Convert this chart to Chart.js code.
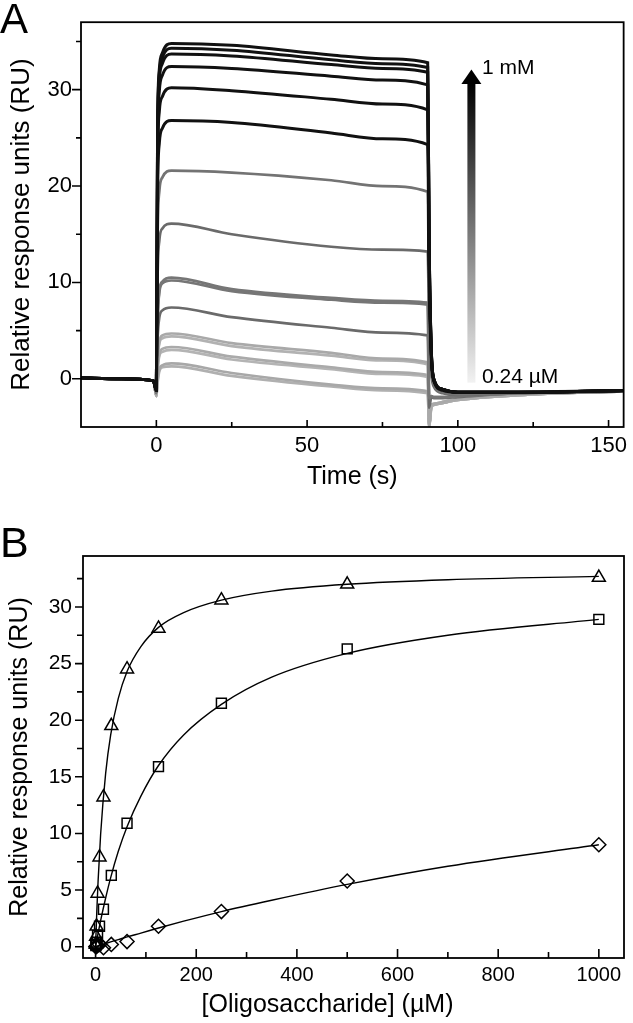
<!DOCTYPE html>
<html>
<head>
<meta charset="utf-8">
<script src="https://cdn.jsdelivr.net/npm/chart.js@4.4.0/dist/chart.umd.min.js"></script>
<style>
  body { margin:0; background:#fff; width:633px; height:1023px; position:relative; overflow:hidden;
         font-family:"Liberation Sans", Arial, sans-serif; }
  canvas { position:absolute; left:0; }
  #chartA { top:0; }
  #chartB { top:520px; }
  .letter { position:absolute; left:0; line-height:1; color:#000; }
</style>
</head>
<body>
<canvas id="chartA" width="633" height="500"></canvas>
<canvas id="chartB" width="633" height="503"></canvas>
<div class="letter" style="top:-2px;font-size:42px">A</div>
<div class="letter" style="top:521px;font-size:43px">B</div>
<script>
// ---- panel A: sensorgrams (RU vs time), highest concentration first ----
var sensTime = [-25, -12, -1, 0, 0.4, 1, 2, 5, 25, 58, 75, 90.0, 90.5, 91.2, 92, 95, 100, 120, 155];

var s1  = [0.1, 0.0, -0.2, -1.2, 26.0, 32.2, 33.8, 34.8, 34.6, 33.6, 33.2, 32.8, 14.0, 3.0, 0.0, -1.1, -1.4, -1.4, -1.2];
var s2  = [0.1, 0.0, -0.2, -1.2, 25.5, 31.7, 33.3, 34.3, 34.1, 33.1, 32.7, 32.3, 13.8, 3.0, 0.0, -1.1, -1.4, -1.4, -1.2];
var s3  = [0.1, 0.0, -0.2, -1.2, 25.0, 31.1, 32.7, 33.7, 33.5, 32.6, 32.2, 31.8, 13.5, 2.9, 0.0, -1.1, -1.4, -1.4, -1.2];
var s4  = [0.1, 0.0, -0.2, -1.2, 24.0, 29.9, 31.5, 32.4, 32.2, 31.4, 31.0, 30.5, 13.0, 2.8, 0.0, -1.1, -1.4, -1.4, -1.2];
var s5  = [0.1, 0.0, -0.2, -1.2, 22.0, 27.8, 29.3, 30.2, 29.9, 29.0, 28.5, 27.9, 12.0, 2.6, -0.1, -1.1, -1.4, -1.4, -1.2];
var s6  = [0.1, 0.0, -0.2, -1.2, 19.0, 24.5, 26.0, 26.8, 26.6, 25.5, 24.9, 24.3, 10.5, 2.3, -0.2, -1.2, -1.4, -1.4, -1.2];
var s7  = [0.1, 0.0, -0.2, -1.3, 14.5, 19.5, 20.9, 21.6, 21.4, 20.6, 20.0, 19.4, 7.0, 1.2, -0.6, -1.4, -1.6, -1.4, -1.2];
var s8  = [0.1, 0.0, -0.2, -1.3, 10.5, 14.4, 15.6, 16.1, 15.0, 13.7, 13.4, 13.2, 4.5, 0.5, -0.8, -1.5, -1.7, -1.4, -1.2];
var s9  = [0.1, 0.0, -0.2, -1.4, 6.0, 9.2, 10.1, 10.5, 9.3, 8.4, 8.1, 7.9, -2.0, -1.8, -1.9, -1.9, -1.8, -1.5, -1.3];
var s10 = [0.1, 0.0, -0.2, -1.4, 5.8, 9.0, 9.9, 10.2, 9.1, 8.2, 7.9, 7.7, -2.0, -1.8, -1.9, -1.9, -1.8, -1.5, -1.3];
var s11 = [0.1, 0.0, -0.2, -1.5, 4.0, 6.4, 7.1, 7.4, 6.4, 5.3, 4.8, 4.5, -3.0, -1.9, -2.0, -2.0, -1.9, -1.5, -1.3];
var s12 = [0.1, 0.0, -0.2, -1.7, 2.0, 3.9, 4.5, 4.7, 3.7, 2.7, 2.1, 1.7, -4.8, -2.8, -2.6, -2.4, -2.1, -1.6, -1.3];
var s13 = [0.1, 0.0, -0.2, -1.7, 1.8, 3.7, 4.2, 4.4, 3.4, 2.4, 1.9, 1.5, -4.8, -2.8, -2.6, -2.4, -2.1, -1.6, -1.3];
var s14 = [0.1, 0.0, -0.2, -1.8, 1.0, 2.6, 3.1, 3.3, 2.3, 1.2, 0.7, 0.4, -4.9, -2.9, -2.7, -2.5, -2.2, -1.7, -1.3];
var s15 = [0.1, 0.0, -0.2, -1.8, 0.8, 2.4, 2.8, 3.0, 2.0, 1.0, 0.5, 0.2, -4.9, -2.9, -2.7, -2.5, -2.2, -1.7, -1.3];
var s16 = [0.1, 0.0, -0.2, -1.8, -0.2, 1.0, 1.4, 1.6, 0.6, -0.6, -1.0, -1.3, -5.0, -3.0, -2.7, -2.5, -2.2, -1.7, -1.3];
var s17 = [0.1, 0.0, -0.2, -1.8, -0.4, 0.8, 1.2, 1.3, 0.3, -0.8, -1.2, -1.5, -5.0, -3.0, -2.7, -2.5, -2.2, -1.7, -1.3];

var timeMajor = [0, 50, 100, 150];
var timeMinor = [25, 75, 125];
var ruMajorA = [0, 10, 20, 30];
var ruMinorA = [5, 15, 25, 35];

// ---- panel B: binding isotherms ----
var conc   = [1000, 500, 250, 125, 62.5, 31.25, 15.63, 7.81, 3.91, 1.95, 0.98, 0.49];
var ruTri  = [32.6, 32.0, 30.6, 28.1, 24.5, 19.5, 13.2, 7.9, 4.7, 1.8, 0.9, 0.2];
var ruSq   = [28.9, 26.3, 21.5, 15.9, 10.9, 6.3, 3.3, 1.8, 1.0, 0.4, 0.2, 0.1];
var ruDia  = [9.0, 5.8, 3.1, 1.8, 0.45, 0.2, -0.1, 0.2, 0.1, 0.05, 0.0, 0.0];

var fitConc = [0, 2.5, 5, 10, 20, 30, 45, 62.5, 90, 125, 175, 250, 350, 500, 700, 1000];
var fitTri  = [0, 3.2, 5.8, 9.9, 15.3, 18.7, 21.9, 24.3, 26.5, 28.2, 29.5, 30.6, 31.4, 32.0, 32.4, 32.7];
var fitSq   = [0, 0.6, 1.2, 2.3, 4.3, 6.1, 8.4, 10.6, 13.3, 16.0, 18.7, 21.4, 23.8, 25.9, 27.5, 28.9];
var fitDia  = [0, 0.04, 0.07, 0.14, 0.28, 0.42, 0.62, 0.86, 1.2, 1.65, 2.25, 3.1, 4.1, 5.5, 7.1, 9.0];

var concMajor = [0, 200, 400, 600, 800, 1000];
var concMinor = [100, 300, 500, 700, 900];
var ruMajorB = [0, 5, 10, 15, 20, 25, 30];
var ruMinorB = [2.5, 7.5, 12.5, 17.5, 22.5, 27.5, 32.5];

Chart.defaults.font.family = '"Liberation Sans", Arial, sans-serif';
Chart.defaults.color = '#000';

function xy(xs, ys) {
  return xs.map(function(x, i) { return {x: x, y: ys[i]}; });
}
function plain(v) { return String(v); }

// box round the plot + ticks (x ticks point in, y ticks point out)
function frameTicks(xMaj, xMin, yMaj, yMin, xl, yl) {
  return {
    id: 'frameTicks',
    afterDraw: function(chart) {
      var ctx = chart.ctx, a = chart.chartArea;
      var xs = chart.scales.x, ys = chart.scales.y;
      ctx.save();
      ctx.strokeStyle = '#000';
      ctx.lineWidth = 1.8;
      ctx.strokeRect(a.left, a.top, a.right - a.left, a.bottom - a.top);
      ctx.lineWidth = 1.6;
      ctx.beginPath();
      xMaj.forEach(function(v) { var p = xs.getPixelForValue(v); ctx.moveTo(p, a.bottom); ctx.lineTo(p, a.bottom - xl[0]); });
      xMin.forEach(function(v) { var p = xs.getPixelForValue(v); ctx.moveTo(p, a.bottom); ctx.lineTo(p, a.bottom - xl[1]); });
      yMaj.forEach(function(v) { var p = ys.getPixelForValue(v); ctx.moveTo(a.left, p); ctx.lineTo(a.left - yl[0], p); });
      yMin.forEach(function(v) { var p = ys.getPixelForValue(v); ctx.moveTo(a.left, p); ctx.lineTo(a.left - yl[1], p); });
      ctx.stroke();
      ctx.restore();
    }
  };
}

// gradient concentration arrow and its labels
var arrowA = {
  id: 'arrowA',
  afterDatasetsDraw: function(chart) {
    var ctx = chart.ctx;
    var xs = chart.scales.x, ys = chart.scales.y;
    var x = xs.getPixelForValue(104.5);
    var yTip = ys.getPixelForValue(32.1);
    var yBase = ys.getPixelForValue(30.7);
    var yEnd = ys.getPixelForValue(-0.4);
    ctx.save();
    var g = ctx.createLinearGradient(0, yBase, 0, yEnd);
    g.addColorStop(0, '#000');
    g.addColorStop(1, '#f2f2f2');
    ctx.fillStyle = g;
    ctx.fillRect(x - 4, yBase, 8, yEnd - yBase);
    ctx.fillStyle = '#000';
    ctx.beginPath();
    ctx.moveTo(x - 10, yBase + 1);
    ctx.lineTo(x + 10, yBase + 1);
    ctx.lineTo(x, yTip);
    ctx.closePath();
    ctx.fill();
    ctx.font = '21px "Liberation Sans", Arial, sans-serif';
    ctx.textBaseline = 'middle';
    ctx.textAlign = 'left';
    ctx.fillText('1 mM', xs.getPixelForValue(108), ys.getPixelForValue(32.2));
    ctx.fillText('0.24 \u00b5M', xs.getPixelForValue(108), ys.getPixelForValue(0.2));
    ctx.restore();
  }
};

var titleB = {
  id: 'titleB',
  afterDraw: function(chart) {
    var ctx = chart.ctx, a = chart.chartArea;
    ctx.save();
    ctx.font = '25px "Liberation Sans", Arial, sans-serif';
    ctx.fillStyle = '#000';
    ctx.textAlign = 'center';
    ctx.textBaseline = 'middle';
    ctx.fillText('[Oligosaccharide] (\u00b5M)', (a.left + a.right) / 2 - 26, chart.height - 18);
    ctx.restore();
  }
};

var traces = [s1, s2, s3, s4, s5, s6, s7, s8, s9, s10, s11, s12, s13, s14, s15, s16, s17];
var shades = ['#111', '#111', '#111', '#111', '#111', '#111',
              '#737373', '#6a6a6a', '#767676', '#767676', '#6a6a6a',
              '#a9a9a9', '#b2b2b2', '#aaaaaa', '#b4b4b4', '#a8a8a8', '#b0b0b0'];

new Chart(document.getElementById('chartA'), {
  type: 'line',
  data: {
    datasets: traces.map(function(tr, i) {
      return {
        data: xy(sensTime, tr),
        borderColor: shades[i],
        borderWidth: i < 6 ? 3 : 2.7,
        pointRadius: 0,
        cubicInterpolationMode: 'monotone',
        fill: false
      };
    })
  },
  options: {
    responsive: false,
    animation: false,
    layout: { padding: { top: 19, right: 3, left: 0, bottom: 0 } },
    plugins: { legend: { display: false }, tooltip: { enabled: false } },
    scales: {
      x: {
        type: 'linear', min: -25, max: 155,
        afterBuildTicks: function(s) { s.ticks = timeMajor.map(function(v) { return {value: v}; }); },
        afterFit: function(s) { s.height = 73; },
        grid: { display: false, drawTicks: false },
        border: { display: false },
        ticks: { font: { size: 22 }, padding: 6, maxRotation: 0, autoSkip: false, callback: plain },
        title: { display: true, text: 'Time (s)', font: { size: 25 }, padding: { top: 0, bottom: 8 } }
      },
      y: {
        type: 'linear', min: -5, max: 37,
        afterBuildTicks: function(s) { s.ticks = ruMajorA.map(function(v) { return {value: v}; }); },
        afterFit: function(s) { s.width = 81; },
        grid: { display: false, drawTicks: false },
        border: { display: false },
        ticks: { font: { size: 22 }, padding: 9, autoSkip: false, callback: plain },
        title: { display: true, text: 'Relative response units (RU)', font: { size: 26 }, padding: { top: 6, bottom: 0 } }
      }
    }
  },
  plugins: [frameTicks(timeMajor, timeMinor, ruMajorA, ruMinorA, [7, 5], [9, 5]), arrowA]
});

function markerSet(ys, style, r) {
  return {
    data: xy(conc, ys),
    showLine: false,
    pointStyle: style,
    pointRadius: r,
    pointBorderColor: '#000',
    pointBackgroundColor: 'rgba(255,255,255,0)',
    pointBorderWidth: 1.5
  };
}
function fitSet(ys) {
  return {
    data: xy(fitConc, ys),
    borderColor: '#000',
    borderWidth: 1.4,
    pointRadius: 0,
    cubicInterpolationMode: 'monotone',
    fill: false
  };
}

new Chart(document.getElementById('chartB'), {
  type: 'line',
  data: {
    datasets: [
      markerSet(ruTri, 'triangle', 7.5),
      markerSet(ruSq, 'rect', 7),
      markerSet(ruDia, 'rectRot', 7),
      fitSet(fitTri),
      fitSet(fitSq),
      fitSet(fitDia)
    ]
  },
  options: {
    responsive: false,
    animation: false,
    layout: { padding: { top: 36, right: 3, left: 0, bottom: 0 } },
    plugins: { legend: { display: false }, tooltip: { enabled: false } },
    scales: {
      x: {
        type: 'linear', min: -25, max: 1050,
        afterBuildTicks: function(s) { s.ticks = concMajor.map(function(v) { return {value: v}; }); },
        afterFit: function(s) { s.height = 65; },
        grid: { display: false, drawTicks: false },
        border: { display: false },
        ticks: { font: { size: 20 }, padding: 5, maxRotation: 0, autoSkip: false, callback: plain }
      },
      y: {
        type: 'linear', min: -1, max: 34.5,
        afterBuildTicks: function(s) { s.ticks = ruMajorB.map(function(v) { return {value: v}; }); },
        afterFit: function(s) { s.width = 83; },
        grid: { display: false, drawTicks: false },
        border: { display: false },
        ticks: { font: { size: 21 }, padding: 11, autoSkip: false, callback: plain },
        title: { display: true, text: 'Relative response units (RU)', font: { size: 25 }, padding: { top: 5, bottom: 0 } }
      }
    }
  },
  plugins: [frameTicks(concMajor, concMinor, ruMajorB, ruMinorB, [9, 6], [8, 6]), titleB]
});
</script>
</body>
</html>
